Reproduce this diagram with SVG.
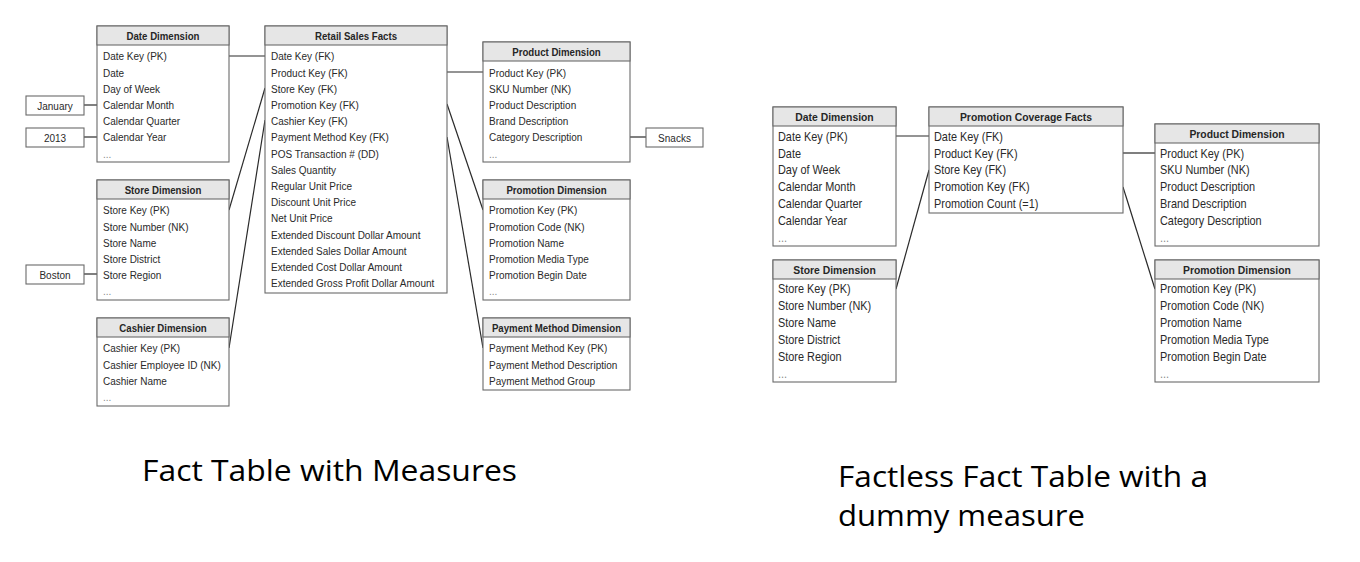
<svg xmlns="http://www.w3.org/2000/svg" width="1360" height="562" viewBox="0 0 1360 562">
<style>
.box{fill:#fff;stroke:#6a6a6a;stroke-width:1.1}
.hdr{fill:#e6e6e6;stroke:#6a6a6a;stroke-width:1.1}
.ht{font-family:"Liberation Sans",Arial,sans-serif;font-weight:bold;font-size:11.1px;fill:#262626;text-anchor:middle}
.t{font-family:"Liberation Sans",Arial,sans-serif;font-size:11.5px;fill:#2a2a2a}
.ht2{font-family:"Liberation Sans",Arial,sans-serif;font-weight:bold;font-size:11.8px;fill:#262626;text-anchor:middle}
.t2{font-family:"Liberation Sans",Arial,sans-serif;font-size:12.4px;fill:#2a2a2a}
.dots{fill:#8a8a8a}
.vt{font-family:"Liberation Sans",Arial,sans-serif;font-size:11.5px;fill:#2a2a2a;text-anchor:middle}
.conn line{stroke:#2a2a2a;stroke-width:1.2}
.title{font-family:"Open Sans","Liberation Sans",sans-serif;font-size:29px;fill:#000}
</style>
<rect width="1360" height="562" fill="#fff"/>

<g class="conn" id="connectors">
<line x1="229" y1="56" x2="265" y2="56"/>
<line x1="229" y1="210" x2="265" y2="88"/>
<line x1="229" y1="348" x2="265" y2="120"/>
<line x1="447" y1="72" x2="483" y2="72"/>
<line x1="447" y1="104" x2="483" y2="210"/>
<line x1="447" y1="137" x2="483" y2="348"/>
<line x1="84" y1="105" x2="97" y2="105"/>
<line x1="84" y1="137" x2="97" y2="137"/>
<line x1="84" y1="274" x2="97" y2="274"/>
<line x1="630" y1="137" x2="646" y2="137"/>
<line x1="896" y1="136" x2="929" y2="136"/>
<line x1="896" y1="289" x2="929" y2="170"/>
<line x1="1123" y1="153" x2="1155" y2="153"/>
<line x1="1123" y1="187" x2="1155" y2="289"/>
</g>

<g id="val-january"><rect class="box" x="26" y="96" width="58" height="19"/><g transform="translate(55 0) scale(0.87 1)"><text class="vt" x="0" y="110">January</text></g></g>
<g id="val-2013"><rect class="box" x="26" y="128" width="58" height="19"/><g transform="translate(55 0) scale(0.87 1)"><text class="vt" x="0" y="142">2013</text></g></g>
<g id="val-boston"><rect class="box" x="26" y="265" width="58" height="19"/><g transform="translate(55 0) scale(0.87 1)"><text class="vt" x="0" y="279">Boston</text></g></g>
<g id="val-snacks"><rect class="box" x="646" y="128" width="57" height="19"/><g transform="translate(674.5 0) scale(0.87 1)"><text class="vt" x="0" y="142">Snacks</text></g></g>

<g id="l-date-dim">
<rect class="box" x="97" y="26" width="132" height="136"/>
<rect class="hdr" x="97" y="26" width="132" height="19"/>
<g transform="translate(97 0) scale(0.87 1)">
<text class="ht" x="75.86" y="40">Date Dimension</text>
<text class="t" x="6.9" y="60.5">Date Key (PK)</text>
<text class="t" x="6.9" y="76.7">Date</text>
<text class="t" x="6.9" y="92.9">Day of Week</text>
<text class="t" x="6.9" y="109.1">Calendar Month</text>
<text class="t" x="6.9" y="125.3">Calendar Quarter</text>
<text class="t" x="6.9" y="141.5">Calendar Year</text>
<text class="t dots" x="6.9" y="157.7">...</text>
</g>
</g>

<g id="l-facts">
<rect class="box" x="265" y="26" width="182" height="267"/>
<rect class="hdr" x="265" y="26" width="182" height="19"/>
<g transform="translate(265 0) scale(0.87 1)">
<text class="ht" x="104.6" y="40">Retail Sales Facts</text>
<text class="t" x="6.9" y="60.5">Date Key (FK)</text>
<text class="t" x="6.9" y="76.7">Product Key (FK)</text>
<text class="t" x="6.9" y="92.9">Store Key (FK)</text>
<text class="t" x="6.9" y="109.1">Promotion Key (FK)</text>
<text class="t" x="6.9" y="125.3">Cashier Key (FK)</text>
<text class="t" x="6.9" y="141.5">Payment Method Key (FK)</text>
<text class="t" x="6.9" y="157.7">POS Transaction # (DD)</text>
<text class="t" x="6.9" y="173.9">Sales Quantity</text>
<text class="t" x="6.9" y="190.1">Regular Unit Price</text>
<text class="t" x="6.9" y="206.3">Discount Unit Price</text>
<text class="t" x="6.9" y="222.5">Net Unit Price</text>
<text class="t" x="6.9" y="238.7">Extended Discount Dollar Amount</text>
<text class="t" x="6.9" y="254.9">Extended Sales Dollar Amount</text>
<text class="t" x="6.9" y="271.1">Extended Cost Dollar Amount</text>
<text class="t" x="6.9" y="287.3">Extended Gross Profit Dollar Amount</text>
</g>
</g>

<g id="l-product-dim">
<rect class="box" x="483" y="42" width="147" height="120"/>
<rect class="hdr" x="483" y="42" width="147" height="19"/>
<g transform="translate(483 0) scale(0.87 1)">
<text class="ht" x="84.48" y="56">Product Dimension</text>
<text class="t" x="6.9" y="76.7">Product Key (PK)</text>
<text class="t" x="6.9" y="92.9">SKU Number (NK)</text>
<text class="t" x="6.9" y="109.1">Product Description</text>
<text class="t" x="6.9" y="125.3">Brand Description</text>
<text class="t" x="6.9" y="141.5">Category Description</text>
<text class="t dots" x="6.9" y="157.7">...</text>
</g>
</g>

<g id="l-promotion-dim">
<rect class="box" x="483" y="180" width="147" height="120"/>
<rect class="hdr" x="483" y="180" width="147" height="19"/>
<g transform="translate(483 0) scale(0.87 1)">
<text class="ht" x="84.48" y="194">Promotion Dimension</text>
<text class="t" x="6.9" y="214.5">Promotion Key (PK)</text>
<text class="t" x="6.9" y="230.7">Promotion Code (NK)</text>
<text class="t" x="6.9" y="246.9">Promotion Name</text>
<text class="t" x="6.9" y="263.1">Promotion Media Type</text>
<text class="t" x="6.9" y="279.3">Promotion Begin Date</text>
<text class="t dots" x="6.9" y="295.5">...</text>
</g>
</g>

<g id="l-payment-dim">
<rect class="box" x="483" y="318" width="147" height="72"/>
<rect class="hdr" x="483" y="318" width="147" height="19"/>
<g transform="translate(483 0) scale(0.87 1)">
<text class="ht" x="84.48" y="332">Payment Method Dimension</text>
<text class="t" x="6.9" y="352.5">Payment Method Key (PK)</text>
<text class="t" x="6.9" y="368.7">Payment Method Description</text>
<text class="t" x="6.9" y="384.9">Payment Method Group</text>
</g>
</g>

<g id="l-store-dim">
<rect class="box" x="97" y="180" width="132" height="120"/>
<rect class="hdr" x="97" y="180" width="132" height="19"/>
<g transform="translate(97 0) scale(0.87 1)">
<text class="ht" x="75.86" y="194">Store Dimension</text>
<text class="t" x="6.9" y="214.5">Store Key (PK)</text>
<text class="t" x="6.9" y="230.7">Store Number (NK)</text>
<text class="t" x="6.9" y="246.9">Store Name</text>
<text class="t" x="6.9" y="263.1">Store District</text>
<text class="t" x="6.9" y="279.3">Store Region</text>
<text class="t dots" x="6.9" y="295.5">...</text>
</g>
</g>

<g id="l-cashier-dim">
<rect class="box" x="97" y="318" width="132" height="88"/>
<rect class="hdr" x="97" y="318" width="132" height="19"/>
<g transform="translate(97 0) scale(0.87 1)">
<text class="ht" x="75.86" y="332">Cashier Dimension</text>
<text class="t" x="6.9" y="352.5">Cashier Key (PK)</text>
<text class="t" x="6.9" y="368.7">Cashier Employee ID (NK)</text>
<text class="t" x="6.9" y="384.9">Cashier Name</text>
<text class="t dots" x="6.9" y="401.1">...</text>
</g>
</g>

<g id="r-date-dim">
<rect class="box" x="773" y="107" width="123" height="139"/>
<rect class="hdr" x="773" y="107" width="123" height="19"/>
<g transform="translate(773 0) scale(0.88 1)">
<text class="ht2" x="69.89" y="121.5">Date Dimension</text>
<text class="t2" x="5.68" y="140.7">Date Key (PK)</text>
<text class="t2" x="5.68" y="157.6">Date</text>
<text class="t2" x="5.68" y="174.4">Day of Week</text>
<text class="t2" x="5.68" y="191.3">Calendar Month</text>
<text class="t2" x="5.68" y="208.1">Calendar Quarter</text>
<text class="t2" x="5.68" y="225">Calendar Year</text>
<text class="t2 dots" x="5.68" y="241.9">...</text>
</g>
</g>

<g id="r-store-dim">
<rect class="box" x="773" y="260" width="123" height="122"/>
<rect class="hdr" x="773" y="260" width="123" height="19"/>
<g transform="translate(773 0) scale(0.88 1)">
<text class="ht2" x="69.89" y="274.5">Store Dimension</text>
<text class="t2" x="5.68" y="293.3">Store Key (PK)</text>
<text class="t2" x="5.68" y="310.2">Store Number (NK)</text>
<text class="t2" x="5.68" y="327">Store Name</text>
<text class="t2" x="5.68" y="343.9">Store District</text>
<text class="t2" x="5.68" y="360.7">Store Region</text>
<text class="t2 dots" x="5.68" y="377.6">...</text>
</g>
</g>

<g id="r-facts">
<rect class="box" x="929" y="107" width="194" height="106"/>
<rect class="hdr" x="929" y="107" width="194" height="19"/>
<g transform="translate(929 0) scale(0.88 1)">
<text class="ht2" x="110.23" y="121.5">Promotion Coverage Facts</text>
<text class="t2" x="5.68" y="140.7">Date Key (FK)</text>
<text class="t2" x="5.68" y="157.6">Product Key (FK)</text>
<text class="t2" x="5.68" y="174.4">Store Key (FK)</text>
<text class="t2" x="5.68" y="191.3">Promotion Key (FK)</text>
<text class="t2" x="5.68" y="208.1">Promotion Count (=1)</text>
</g>
</g>

<g id="r-product-dim">
<rect class="box" x="1155" y="124" width="164" height="122"/>
<rect class="hdr" x="1155" y="124" width="164" height="19"/>
<g transform="translate(1155 0) scale(0.88 1)">
<text class="ht2" x="93.18" y="138.5">Product Dimension</text>
<text class="t2" x="5.68" y="157.6">Product Key (PK)</text>
<text class="t2" x="5.68" y="174.4">SKU Number (NK)</text>
<text class="t2" x="5.68" y="191.3">Product Description</text>
<text class="t2" x="5.68" y="208.1">Brand Description</text>
<text class="t2" x="5.68" y="225">Category Description</text>
<text class="t2 dots" x="5.68" y="241.9">...</text>
</g>
</g>

<g id="r-promotion-dim">
<rect class="box" x="1155" y="260" width="164" height="122"/>
<rect class="hdr" x="1155" y="260" width="164" height="19"/>
<g transform="translate(1155 0) scale(0.88 1)">
<text class="ht2" x="93.18" y="274.5">Promotion Dimension</text>
<text class="t2" x="5.68" y="293.3">Promotion Key (PK)</text>
<text class="t2" x="5.68" y="310.2">Promotion Code (NK)</text>
<text class="t2" x="5.68" y="327">Promotion Name</text>
<text class="t2" x="5.68" y="343.9">Promotion Media Type</text>
<text class="t2" x="5.68" y="360.7">Promotion Begin Date</text>
<text class="t2 dots" x="5.68" y="377.6">...</text>
</g>
</g>

<g id="titles">
<text class="title" x="142" y="481" textLength="375" lengthAdjust="spacingAndGlyphs">Fact Table with Measures</text>
<text class="title" x="838" y="487" textLength="370" lengthAdjust="spacingAndGlyphs">Factless Fact Table with a</text>
<text class="title" x="838" y="526" textLength="247" lengthAdjust="spacingAndGlyphs">dummy measure</text>
</g>
</svg>
